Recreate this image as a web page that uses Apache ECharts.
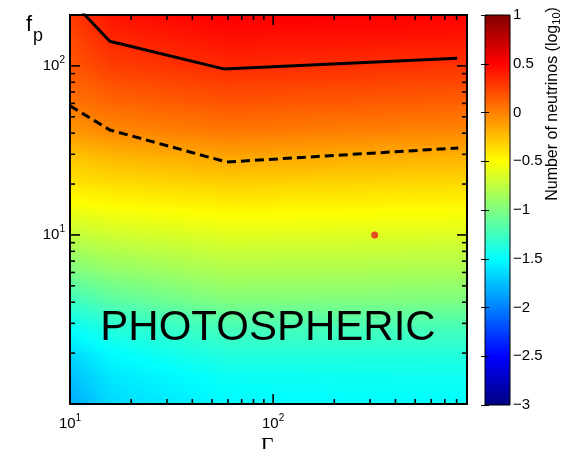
<!DOCTYPE html>
<html><head><meta charset="utf-8">
<script src="https://cdn.jsdelivr.net/npm/echarts@6/dist/echarts.min.js"></script>
<style>html,body{margin:0;padding:0;background:#fff}#c{width:568px;height:449px}</style>
</head><body><div id="c"></div>
<script>
// ---- data ----
const gammaCols = [10, 16, 60, 900];
const fpRows = [1, 1.5, 2, 3, 4, 6, 8, 10, 15, 20, 30, 40, 60, 80, 100, 150, 200];
const valG10  = [-1.83, -1.74, -1.64, -1.45, -1.28, -1.02, -0.86, -0.74, -0.52, -0.40, -0.26, -0.10, 0.04, 0.11, 0.16, 0.22, 0.27];
const valG16  = [-1.65, -1.58, -1.50, -1.33, -1.16, -0.94, -0.80, -0.69, -0.49, -0.37, -0.20, -0.05, 0.10, 0.19, 0.26, 0.36, 0.43];
const valG60  = [-1.52, -1.45, -1.36, -1.19, -1.00, -0.82, -0.71, -0.62, -0.44, -0.32, -0.13, 0.02, 0.17, 0.26, 0.34, 0.45, 0.52];
const valG900 = [-1.50, -1.44, -1.36, -1.19, -1.02, -0.84, -0.73, -0.64, -0.47, -0.36, -0.18, -0.04, 0.12, 0.22, 0.30, 0.43, 0.50];
const solidGamma = [10, 15.7, 57, 805];
const solidFp    = [248, 140, 96, 111];
const dashGamma  = [10, 15.7, 59, 815];
const dashFp     = [58, 41.8, 27, 32.7];
const dotGamma = [316];
const dotFp    = [10];
const xRange = [10, 900];
const yRange = [1, 200];
const xTickVals = [20, 30, 40, 50, 60, 70, 80, 90, 100, 200, 300, 400, 500, 600, 700, 800];
const yTickVals = [2, 3, 4, 5, 6, 7, 8, 9, 10, 20, 30, 40, 50, 60, 70, 80, 90, 100];
const majorVals = [10, 100];
const cbLimits = [-3, 1];
const cbInterval = 0.5;
const annotation = 'PHOTOSPHERIC';

// ---- helpers ----
const valCols = [valG10, valG16, valG60, valG900];
function jet(v) {
  const p = (v - cbLimits[0]) / (cbLimits[1] - cbLimits[0]);
  const c = x => Math.round(255 * Math.max(0, Math.min(1, x)));
  return 'rgb(' + c(1.5 - Math.abs(4 * p - 3)) + ',' + c(1.5 - Math.abs(4 * p - 2)) + ',' + c(1.5 - Math.abs(4 * p - 1)) + ')';
}
const heatData = [];
for (let i = 0; i < gammaCols.length - 1; i++) {
  for (let j = 0; j < fpRows.length - 1; j++) {
    heatData.push([gammaCols[i], gammaCols[i + 1], fpRows[j], fpRows[j + 1],
      valCols[i][j], valCols[i + 1][j], valCols[i][j + 1], valCols[i + 1][j + 1]]);
  }
}
function renderHeat(params, api) {
  const pA = api.coord([api.value(0), api.value(2)]);
  const pB = api.coord([api.value(1), api.value(3)]);
  const vb0 = api.value(4), vb1 = api.value(5), vt0 = api.value(6), vt1 = api.value(7);
  const x0 = pA[0], x1 = pB[0], yb = pA[1], yt = pB[1];
  const n = Math.max(1, Math.ceil((x1 - x0) / 3));
  const sw = (x1 - x0) / n;
  const children = [];
  for (let k = 0; k < n; k++) {
    const t = (k + 0.5) / n;
    const vb = vb0 + (vb1 - vb0) * t, vt = vt0 + (vt1 - vt0) * t;
    const stops = [0, 0.25, 0.5, 0.75, 1].map(s => ({ offset: s, color: jet(vt + (vb - vt) * s) }));
    children.push({ type: 'rect', silent: true,
      shape: { x: x0 + k * sw, y: yt - 0.6, width: sw + 1, height: yb - yt + 1.2 },
      style: { fill: new echarts.graphic.LinearGradient(0, 0, 0, 1, stops) } });
  }
  return { type: 'group', children };
}
function renderColorbar(params, api) {
  const pB = api.coord([0, cbLimits[0]]);
  const pT = api.coord([1, cbLimits[1]]);
  const stops = [];
  for (let s = 0; s <= 16; s++) {
    stops.push({ offset: s / 16, color: jet(cbLimits[1] - (cbLimits[1] - cbLimits[0]) * s / 16) });
  }
  return { type: 'rect', shape: { x: pB[0], y: pT[1], width: pT[0] - pB[0], height: pB[1] - pT[1] },
    style: { fill: new echarts.graphic.LinearGradient(0, 0, 0, 1, stops), stroke: '#000', lineWidth: 1 } };
}
function renderXTick(params, api) {
  const v = api.value(0);
  const len = majorVals.indexOf(v) >= 0 ? 10 : 5;
  const pb = api.coord([v, yRange[0]]);
  const pt = api.coord([v, yRange[1]]);
  return { type: 'group', children: [
    { type: 'line', shape: { x1: pb[0], y1: pb[1], x2: pb[0], y2: pb[1] - len }, style: { stroke: '#000', lineWidth: 1.6 } },
    { type: 'line', shape: { x1: pt[0], y1: pt[1], x2: pt[0], y2: pt[1] + len }, style: { stroke: '#000', lineWidth: 1.6 } }
  ] };
}
function renderYTick(params, api) {
  const v = api.value(1);
  const len = majorVals.indexOf(v) >= 0 ? 10 : 5;
  const pl = api.coord([xRange[0], v]);
  const pr = api.coord([xRange[1], v]);
  return { type: 'group', children: [
    { type: 'line', shape: { x1: pl[0], y1: pl[1], x2: pl[0] + len, y2: pl[1] }, style: { stroke: '#000', lineWidth: 1.6 } },
    { type: 'line', shape: { x1: pr[0], y1: pr[1], x2: pr[0] - len, y2: pr[1] }, style: { stroke: '#000', lineWidth: 1.6 } }
  ] };
}
const FONT = 'Liberation Sans, Arial, sans-serif';
const powRich = {
  b: { fontSize: 15, fontFamily: FONT, color: '#000', lineHeight: 22 },
  s: { fontSize: 10, fontFamily: FONT, color: '#000', lineHeight: 9, verticalAlign: 'top' }
};
function powLabel(v) {
  const lg = Math.log10(v);
  const e = Math.round(lg);
  if (Math.abs(lg - e) > 1e-6 || majorVals.indexOf(Math.pow(10, e)) < 0) return '';
  return '{b|10}{s|' + e + '}';
}
function cbLabel(v) {
  const r = Math.round(v * 10) / 10;
  return r < 0 ? '\u2212' + Math.abs(r) : String(r);
}
const zip = (a, b) => a.map((v, i) => [v, b[i]]);

const chart = echarts.init(document.getElementById('c'), null, { renderer: 'canvas' });
chart.setOption({
  animation: false,
  backgroundColor: '#fff',
  grid: [
    { left: 70, top: 15, width: 397, height: 389 },
    { left: 485, top: 15, width: 25, height: 390 }
  ],
  xAxis: [
    { gridIndex: 0, type: 'log', logBase: 10, min: xRange[0], max: xRange[1], z: 10,
      axisLine: { lineStyle: { color: '#000', width: 2 } }, axisTick: { show: false }, splitLine: { show: false },
      axisLabel: { margin: 9, formatter: powLabel, rich: powRich } },
    { gridIndex: 0, type: 'log', logBase: 10, min: xRange[0], max: xRange[1], position: 'top', z: 10,
      axisLine: { lineStyle: { color: '#000', width: 2 } }, axisTick: { show: false }, splitLine: { show: false },
      axisLabel: { show: false } },
    { gridIndex: 1, type: 'value', min: 0, max: 1, show: false }
  ],
  yAxis: [
    { gridIndex: 0, type: 'log', logBase: 10, min: yRange[0], max: yRange[1], z: 10,
      axisLine: { lineStyle: { color: '#000', width: 2 } }, axisTick: { show: false }, splitLine: { show: false },
      axisLabel: { margin: 5, formatter: powLabel, rich: powRich } },
    { gridIndex: 0, type: 'log', logBase: 10, min: yRange[0], max: yRange[1], position: 'right', z: 10,
      axisLine: { lineStyle: { color: '#000', width: 2 } }, axisTick: { show: false }, splitLine: { show: false },
      axisLabel: { show: false } },
    { gridIndex: 1, type: 'value', min: cbLimits[0], max: cbLimits[1], interval: cbInterval, position: 'right', z: 10,
      axisLine: { show: false }, splitLine: { show: false },
      axisTick: { inside: true, length: 4, lineStyle: { color: '#000', width: 1 } },
      axisLabel: { margin: 3, color: '#000', fontSize: 15, fontFamily: FONT, formatter: cbLabel } },
    { gridIndex: 1, type: 'value', min: cbLimits[0], max: cbLimits[1], interval: cbInterval, position: 'left', z: 10,
      axisLine: { show: false }, splitLine: { show: false },
      axisTick: { inside: true, length: 4, lineStyle: { color: '#000', width: 1 } },
      axisLabel: { show: false } }
  ],
  series: [
    { type: 'custom', xAxisIndex: 0, yAxisIndex: 0, clip: true, z: 1, silent: true,
      encode: { x: [0, 1], y: [2, 3] }, data: heatData, renderItem: renderHeat },
    { type: 'custom', xAxisIndex: 2, yAxisIndex: 2, z: 1, silent: true,
      encode: { x: 0, y: 1 }, data: [[0, cbLimits[0]]], renderItem: renderColorbar },
    { type: 'line', xAxisIndex: 0, yAxisIndex: 0, z: 5, symbol: 'none', clip: true,
      data: zip(solidGamma, solidFp), lineStyle: { color: '#000', width: 3 } },
    { type: 'line', xAxisIndex: 0, yAxisIndex: 0, z: 5, symbol: 'none', clip: true,
      data: zip(dashGamma, dashFp), lineStyle: { color: '#000', width: 3, type: [9, 5] } },
    { type: 'scatter', xAxisIndex: 0, yAxisIndex: 0, z: 6, symbol: 'circle', symbolSize: 7,
      data: zip(dotGamma, dotFp), itemStyle: { color: '#e41f1f' } },
    { type: 'custom', xAxisIndex: 0, yAxisIndex: 0, z: 8, silent: true,
      encode: { x: 0, y: 1 }, data: xTickVals.map(v => [v, yRange[0]]), renderItem: renderXTick },
    { type: 'custom', xAxisIndex: 0, yAxisIndex: 0, z: 8, silent: true,
      encode: { x: 0, y: 1 }, data: yTickVals.map(v => [xRange[0], v]), renderItem: renderYTick }
  ],
  graphic: [
    { type: 'text', x: 268, y: 328, z: 20, silent: true,
      style: { text: annotation, fontSize: 42, fontFamily: FONT, fill: '#000', align: 'center', verticalAlign: 'middle' } },
    { type: 'text', x: 267, y: 435, z: 20, silent: true,
      style: { text: '\u0393', fontSize: 22, fontFamily: 'Liberation Serif, DejaVu Serif, serif', fill: '#000', align: 'center', verticalAlign: 'top' } },
    { type: 'text', x: 26, y: 14, z: 20, silent: true,
      style: { text: 'f', fontSize: 22, fontFamily: FONT, fill: '#000', align: 'left', verticalAlign: 'top' } },
    { type: 'text', x: 33, y: 27, z: 20, silent: true,
      style: { text: 'p', fontSize: 18, fontFamily: FONT, fill: '#000', align: 'left', verticalAlign: 'top' } },
    { type: 'text', x: 553, y: 104, z: 20, silent: true, rotation: Math.PI / 2,
      style: { text: '{a|Number of neutrinos (log}{s|10}{a|)}', align: 'center', verticalAlign: 'middle',
        rich: { a: { fontSize: 16, fontFamily: FONT, fill: '#000', lineHeight: 18 },
                s: { fontSize: 11, fontFamily: FONT, fill: '#000', lineHeight: 10, verticalAlign: 'bottom' } } } }
  ]
});
</script></body></html>
